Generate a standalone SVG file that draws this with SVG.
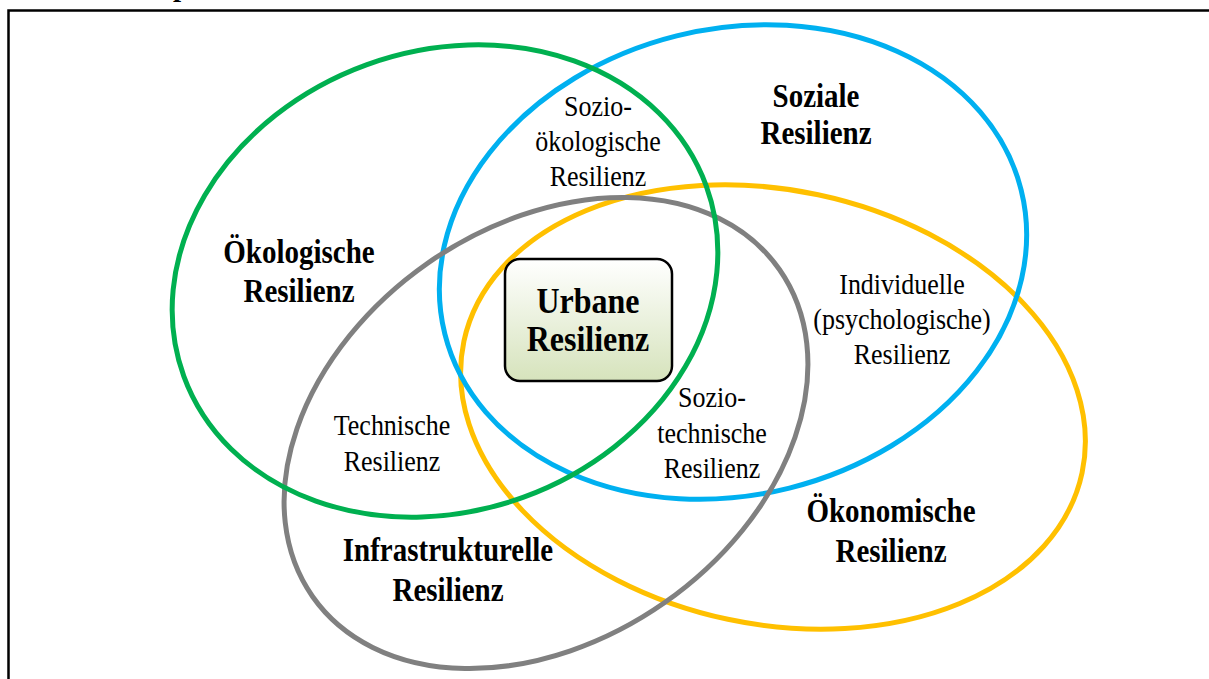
<svg xmlns="http://www.w3.org/2000/svg" width="1209" height="679" viewBox="0 0 1209 679">
<defs>
<linearGradient id="boxGrad" x1="0" y1="0" x2="0" y2="1">
<stop offset="0" stop-color="#FFFFFF"/>
<stop offset="1" stop-color="#D6E3BC"/>
</linearGradient>
<style>
.ring{fill:none;stroke-width:5}
.lbl{font-family:"Liberation Serif","Times New Roman",serif;font-size:26px;fill:#000;text-anchor:middle}
.bold{font-weight:bold;font-size:29px}
.big{font-weight:bold;font-size:32px}
</style>
</defs>
<rect width="1209" height="679" fill="#FFFFFF"/>
<rect x="8.5" y="10.5" width="1240" height="720" fill="none" stroke="#000" stroke-width="2.5"/>
<text class="lbl bold" x="181" y="-4">p</text>
<g id="connectors">
<ellipse id="ring-oekonomisch" class="ring" stroke="#FFC000" cx="773" cy="407" rx="316" ry="217" transform="rotate(12 773 407)"/>
<ellipse id="ring-sozial" class="ring" stroke="#00B0F0" cx="733" cy="262" rx="297" ry="233" transform="rotate(-14 733 262)"/>
<ellipse id="ring-infra" class="ring" stroke="#808080" cx="546" cy="433" rx="285" ry="207" transform="rotate(-35 546 433)"/>
<ellipse id="ring-oeko" class="ring" stroke="#00B050" cx="445" cy="281" rx="278" ry="230" transform="rotate(-20 445 281)"/>
</g>
<g id="node-urbane">
<rect x="505" y="259" width="167" height="122" rx="15" ry="15" fill="url(#boxGrad)" stroke="#000" stroke-width="2.5"/>
<text class="lbl big" transform="translate(588,313) scale(1,1.1)">Urbane</text>
<text class="lbl big" transform="translate(588,351) scale(1,1.1)">Resilienz</text>
</g>
<g id="node-oekologisch">
<text class="lbl bold" transform="translate(299,263) scale(1,1.14)">Ökologische</text>
<text class="lbl bold" transform="translate(299,302) scale(1,1.14)">Resilienz</text>
</g>
<g id="node-sozial">
<text class="lbl bold" transform="translate(816,107) scale(1,1.14)">Soziale</text>
<text class="lbl bold" transform="translate(816,144) scale(1,1.14)">Resilienz</text>
</g>
<g id="node-sozio-oeko">
<text class="lbl" transform="translate(598,116) scale(1,1.14)">Sozio-</text>
<text class="lbl" transform="translate(598,151) scale(1,1.14)">ökologische</text>
<text class="lbl" transform="translate(598,186) scale(1,1.14)">Resilienz</text>
</g>
<g id="node-individuell">
<text class="lbl" transform="translate(902,294) scale(1,1.14)">Individuelle</text>
<text class="lbl" transform="translate(902,329) scale(1,1.14)">(psychologische)</text>
<text class="lbl" transform="translate(902,364) scale(1,1.14)">Resilienz</text>
</g>
<g id="node-sozio-tech">
<text class="lbl" transform="translate(712,407) scale(1,1.14)">Sozio-</text>
<text class="lbl" transform="translate(712,443) scale(1,1.14)">technische</text>
<text class="lbl" transform="translate(712,478) scale(1,1.14)">Resilienz</text>
</g>
<g id="node-technisch">
<text class="lbl" transform="translate(392,435) scale(1,1.14)">Technische</text>
<text class="lbl" transform="translate(392,471) scale(1,1.14)">Resilienz</text>
</g>
<g id="node-infra">
<text class="lbl bold" transform="translate(448,561) scale(1,1.14)">Infrastrukturelle</text>
<text class="lbl bold" transform="translate(448,601) scale(1,1.14)">Resilienz</text>
</g>
<g id="node-oekonomisch">
<text class="lbl bold" transform="translate(891,522) scale(1,1.14)">Ökonomische</text>
<text class="lbl bold" transform="translate(891,562) scale(1,1.14)">Resilienz</text>
</g>
</svg>
